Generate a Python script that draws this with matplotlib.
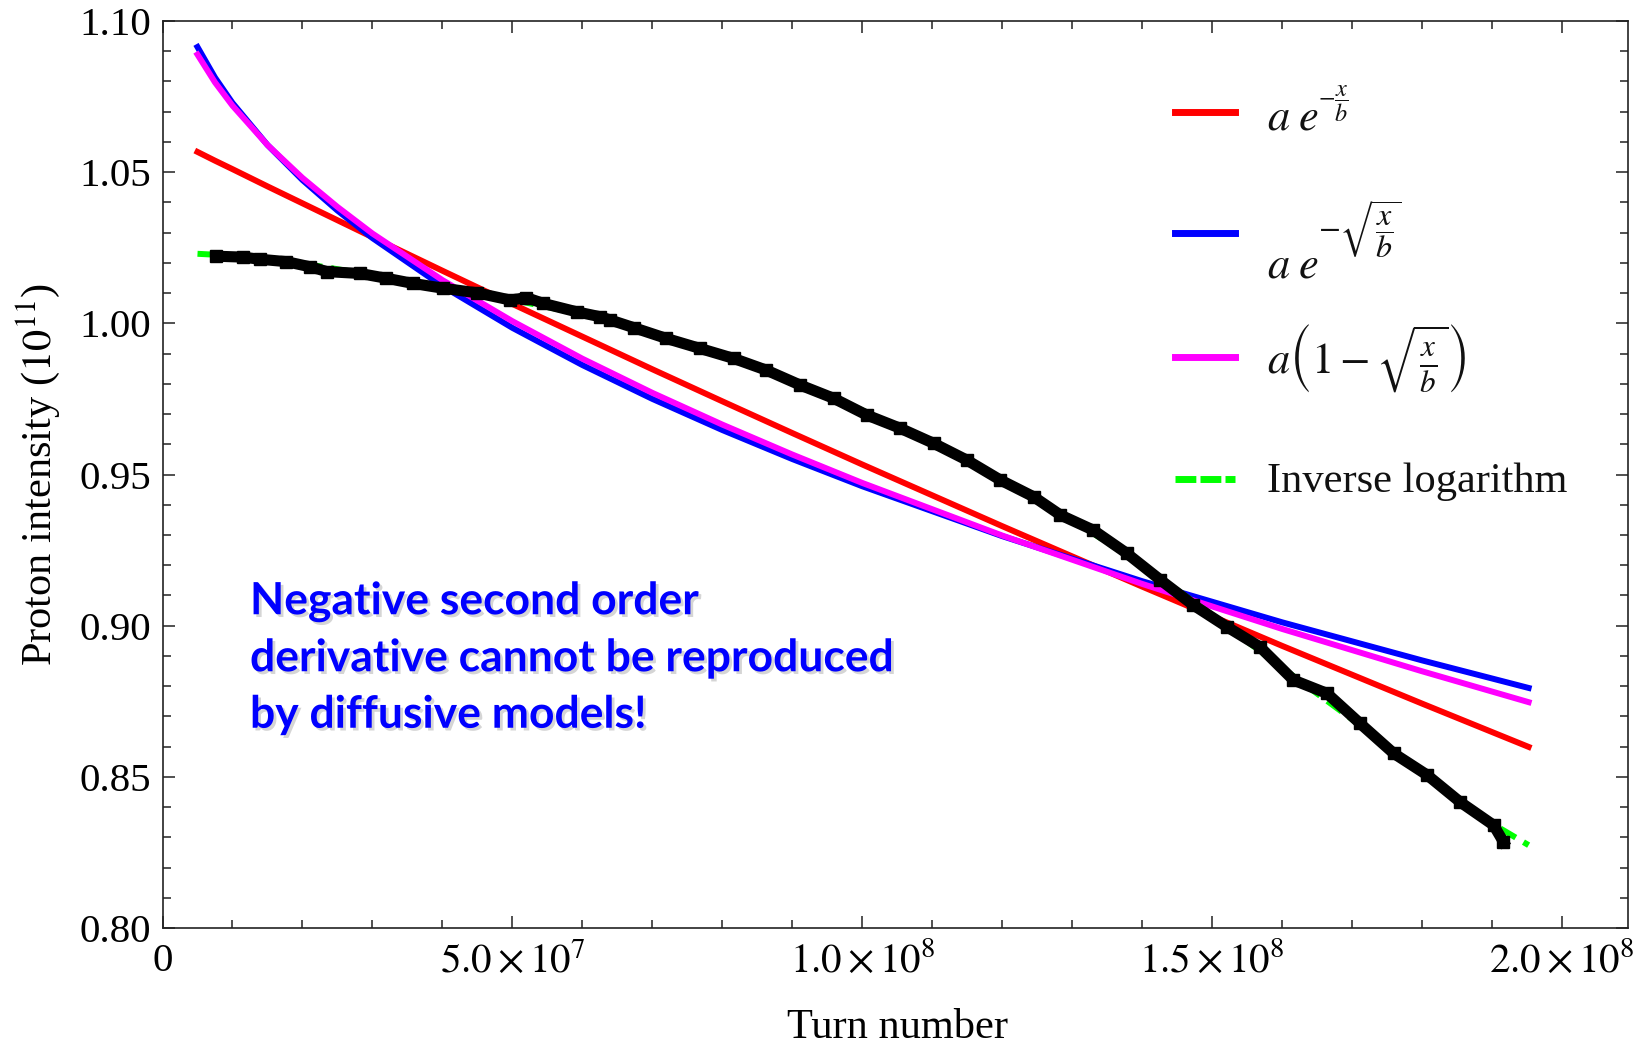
import matplotlib
matplotlib.use("Agg")
import matplotlib.pyplot as plt
import matplotlib.patheffects as pe
from matplotlib.lines import Line2D
from matplotlib.ticker import MultipleLocator, FixedLocator, FixedFormatter, FormatStrFormatter

plt.rcParams['font.family'] = ['Liberation Serif', 'DejaVu Serif']
plt.rcParams['mathtext.fontset'] = 'stix'

# ---------------- data ----------------
fit_x = [0.5e7, 0.75e7, 1e7, 1.5e7, 2e7, 2.5e7, 3e7, 4e7, 5e7, 6e7, 7e7, 8e7, 9e7,
         10e7, 12e7, 14e7, 16e7, 18e7, 19.52e7]
red_exp = [1.0567, 1.0538, 1.0510, 1.0453, 1.0397, 1.0341, 1.0285, 1.0174, 1.0064, 0.9956,
           0.9848, 0.9742, 0.9637, 0.9533, 0.9329, 0.9129, 0.8933, 0.8742, 0.8599]
blue_exp_sqrt = [1.0914, 1.0813, 1.0729, 1.0590, 1.0474, 1.0373, 1.0282, 1.0123, 0.9985, 0.9862,
                 0.9750, 0.9647, 0.9551, 0.9461, 0.9296, 0.9147, 0.9011, 0.8885, 0.8794]
magenta_lin_sqrt = [1.0889, 1.0797, 1.0720, 1.0590, 1.0481, 1.0385, 1.0297, 1.0143, 1.0007, 0.9883,
                    0.9770, 0.9665, 0.9566, 0.9472, 0.9298, 0.9138, 0.8989, 0.8849, 0.8747]

inv_log_x = [0.5e7, 1e7, 2e7, 3e7, 4e7, 5e7, 6e7, 7e7, 8e7, 9e7, 10e7, 11e7, 12e7, 13e7,
             14e7, 15e7, 16e7, 17e7, 18e7, 19e7, 19.52e7]
inv_log_y = [1.0230, 1.0224, 1.0198, 1.0160, 1.0120, 1.0078, 1.0030, 0.9968, 0.9895, 0.9810,
             0.9712, 0.9605, 0.9485, 0.9350, 0.9200, 0.9035, 0.8860, 0.8690, 0.8510, 0.8345, 0.8274]

meas_x = [0.77e7, 1.15e7, 1.39e7, 1.77e7, 2.11e7, 2.35e7, 2.82e7, 3.2e7, 3.58e7, 4.01e7,
          4.49e7, 4.97e7, 5.2e7, 5.44e7, 5.92e7, 6.25e7, 6.4e7, 6.73e7, 7.2e7, 7.68e7,
          8.16e7, 8.63e7, 9.11e7, 9.59e7, 10.06e7, 10.54e7, 11.02e7, 11.49e7, 11.97e7, 12.45e7,
          12.83e7, 13.3e7, 13.78e7, 14.26e7, 14.73e7, 15.21e7, 15.68e7, 16.16e7, 16.64e7, 17.11e7,
          17.59e7, 18.07e7, 18.54e7, 19.02e7, 19.16e7]
meas_y = [1.0222, 1.0219, 1.0212, 1.0204, 1.0187, 1.0171, 1.0165, 1.0149, 1.0132, 1.0116,
          1.0101, 1.0077, 1.0085, 1.0066, 1.0038, 1.0022, 1.0011, 0.9986, 0.9950, 0.9917,
          0.9884, 0.9845, 0.9796, 0.9752, 0.9697, 0.9653, 0.9603, 0.9548, 0.9482, 0.9426,
          0.9366, 0.9316, 0.9239, 0.9151, 0.9068, 0.8996, 0.8930, 0.8820, 0.8776, 0.8677,
          0.8578, 0.8506, 0.8417, 0.8340, 0.8285]

x_major = [0, 5e7, 1e8, 1.5e8, 2e8]
x_labels = ["0", r"$5.0\times10^{7}$", r"$1.0\times10^{8}$", r"$1.5\times10^{8}$", r"$2.0\times10^{8}$"]

note = "Negative second order\nderivative cannot be reproduced\nby diffusive models!"

# ---------------- figure ----------------
W, H = 1644, 1048
fig = plt.figure(figsize=(W / 100, H / 100), dpi=100)
ax = fig.add_axes([162.5 / W, 1 - 928 / H, (1628 - 162.5) / W, (928 - 21) / H])

RED, BLUE, MAG, GREEN = "#ff0000", "#0000ff", "#ff00ff", "#00ff00"
ax.plot(fit_x, red_exp, color=RED, lw=4.3, zorder=2)
ax.plot(fit_x, blue_exp_sqrt, color=BLUE, lw=4.3, zorder=3)
ax.plot(fit_x, magenta_lin_sqrt, color=MAG, lw=4.3, zorder=4)
ax.plot(inv_log_x, inv_log_y, color=GREEN, lw=4.3, dashes=(3, 1.5), zorder=5)
ax.plot(meas_x, meas_y, color="black", lw=8, marker="s", ms=8, zorder=6)

ax.set_xlim(0, 2.094e8)
ax.set_ylim(0.80, 1.10)
ax.xaxis.set_major_locator(FixedLocator(x_major))
ax.xaxis.set_major_formatter(FixedFormatter(x_labels))
ax.xaxis.set_minor_locator(MultipleLocator(1e7))
ax.yaxis.set_major_locator(MultipleLocator(0.05))
ax.yaxis.set_minor_locator(MultipleLocator(0.01))
ax.yaxis.set_major_formatter(FormatStrFormatter("%.2f"))
ax.tick_params(which="both", direction="in", top=True, right=True, width=1.1, color="#222222")
ax.tick_params(which="major", length=8.5)
ax.tick_params(which="minor", length=5.5)
ax.tick_params(axis="x", which="major", labelsize=29.5, pad=11)
ax.tick_params(axis="y", which="major", labelsize=29.5, pad=8)
for s in ax.spines.values():
    s.set_linewidth(1.2)
    s.set_color("#222222")

ax.set_ylabel(r"Proton intensity ($10^{11}$)", fontsize=30.5, labelpad=12)


def fp(x, y):
    """pixel position (top-left origin) -> figure fraction"""
    return (x / W, 1 - y / H)


fig.text(*fp(897, 1038), "Turn number", fontsize=30.5, ha="center", va="baseline")

# legend drawn manually
leg_y = [112, 233, 357, 479]
leg_colors = [RED, BLUE, MAG, GREEN]
for i, (yy, c) in enumerate(zip(leg_y, leg_colors)):
    x0, y0 = fp(1175, yy)
    x1, _ = fp(1235, yy)
    kw = dict(dashes=(3, 0.6)) if i == 3 else {}
    fig.add_artist(Line2D([x0, x1], [y0, y0], color=c, lw=5,
                          transform=fig.transFigure, **kw))

TXT = "#111111"
# red: a e^{-x/b}
fig.text(*fp(1267, 130), r"$a\;e$", fontsize=32, ha="left", va="baseline", color=TXT)
fig.text(*fp(1318, 104), r"$-\dfrac{x}{b}$", fontsize=17.5, ha="left", va="center", color=TXT)
# blue: a e^{-sqrt(x/b)}
fig.text(*fp(1267, 277), r"$a\;e$", fontsize=32, ha="left", va="baseline", color=TXT)
fig.text(*fp(1318, 230), r"$-\sqrt{\dfrac{x}{b}}$", fontsize=23, ha="left", va="center", color=TXT)
# magenta: a(1 - sqrt(x/b))
fig.text(*fp(1267, 358), r"$a\left(1-\sqrt{\frac{x}{b}}\right)$", fontsize=32,
         ha="left", va="center", color=TXT)
# green
fig.text(*fp(1267, 492), "Inverse logarithm", fontsize=30.5, ha="left", va="baseline", color=TXT)

# annotation
fig.text(*fp(250, 658), note, fontsize=32, fontweight="bold", family="Lato", color="#0000ff",
         ha="left", va="center", linespacing=1.5,
         path_effects=[pe.withSimplePatchShadow(offset=(2, -2), shadow_rgbFace="#888888", alpha=0.35)])

fig.savefig("out.png", dpi=100)
